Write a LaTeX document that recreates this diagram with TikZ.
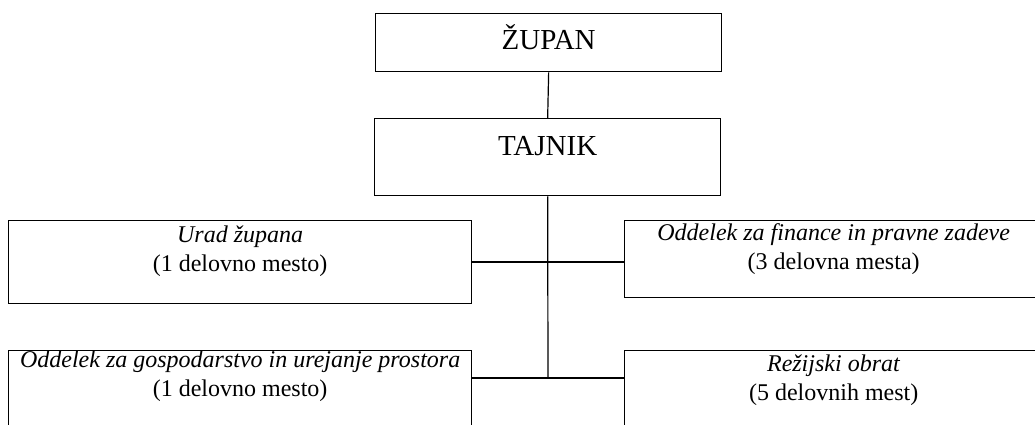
\documentclass[tikz,border=0pt]{standalone}
\usepackage{fontspec}
\setmainfont{Liberation Serif}
\usetikzlibrary{positioning, calc}

\begin{document}
\begin{tikzpicture}[x=1pt, y=-1pt]
        % Styles
        \tikzstyle{box} = [rectangle, draw=black, line width=1.3pt, inner sep=0pt, anchor=north west]
        \tikzstyle{head} = [font=\fontsize{29}{32}\selectfont, inner sep=0pt, anchor=base]
        \tikzstyle{unit} = [font=\fontsize{24}{29}\selectfont, align=center, inner sep=0pt, anchor=north]
        \tikzstyle{line} = [line width=1.2pt, color=black]

        \useasboundingbox (0,0) rectangle (1035,424);
        \clip (0,0) rectangle (1035,424);

        % Boxes
        \node (zupan) [box, minimum width=346pt, minimum height=58pt] at (375,13) {};
        \node (tajnik) [box, minimum width=346pt, minimum height=77pt] at (374,118) {};
        \node (urad) [box, minimum width=463pt, minimum height=83pt] at (8,220) {};
        \node (finance) [box, minimum width=418pt, minimum height=77pt] at (624,220) {};
        \node (gosp) [box, minimum width=463pt, minimum height=83pt] at (8,350) {};
        \node (rezija) [box, minimum width=418pt, minimum height=83pt] at (624,350) {};

        % Texts
        \node [head] at ([yshift=-36pt]zupan.north) {ŽUPAN};
        \node [head] at ([yshift=-37pt]tajnik.north) {TAJNIK};
        \node [unit] at ([yshift=-6pt]urad.north) {\textit{Urad župana}\\(1 delovno mesto)};
        \node [unit] at ([yshift=-3pt]finance.north) {\textit{Oddelek za finance in pravne zadeve}\\(3 delovna mesta)};
        \node [unit] at ([yshift=-1pt]gosp.north) {\textit{Oddelek za gospodarstvo in urejanje prostora}\\(1 delovno mesto)};
        \node [unit] at ([yshift=-5pt]rezija.north) {\textit{Režijski obrat}\\(5 delovnih mest)};

        % Lines
        \coordinate (j1) at (548,262);
        \coordinate (j2) at (548,378);
        \draw [line] (zupan.south) -- (tajnik.north);
        \draw [line] (tajnik.south) -- (j2);
        \draw [line] (urad.east |- j1) -- (finance.west |- j1);
        \draw [line] (gosp.east |- j2) -- (rezija.west |- j2);

\end{tikzpicture}
\end{document}
